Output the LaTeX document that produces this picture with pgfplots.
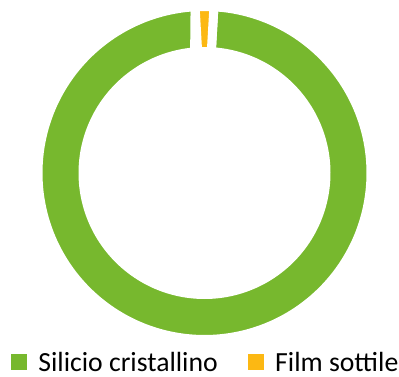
\documentclass[border=0pt]{standalone}
\usepackage{fontspec}
\setmainfont{Carlito}
\usepackage{pgfplots}
\usepackage{pgfplotstable}
\pgfplotsset{compat=1.18}
\definecolor{cgreen}{HTML}{77B82E}
\definecolor{corange}{HTML}{FCB813}
\pgfplotstableread{
label value
Silicio 98.2
Film 1.8
}\datatable
\pgfplotstablegetelem{0}{value}\of\datatable \let\va\pgfplotsretval
\pgfplotstablegetelem{1}{value}\of\datatable \let\vb\pgfplotsretval
\pgfmathsetmacro\aOs{90-\vb*1.8}
\pgfmathsetmacro\aOe{90+\vb*1.8}
\pgfmathsetmacro\aGs{\aOe}
\pgfmathsetmacro\aGe{\aOe+\va*3.6}
\def\Ro{166.5}
\def\Ri{121.5}
\newcommand\sector[3]{%
\addplot[fill=#1, draw=white, line width=9pt, forget plot,
  samples at={0,0.005,...,0.995,0.99999,1,1.005,...,2}]
  ({ifthenelse(x<1, \Ro*cos(#2+(#3-#2)*x), \Ri*cos(#3-(#3-#2)*(x-1)))},
   {ifthenelse(x<1, \Ro*sin(#2+(#3-#2)*x), \Ri*sin(#3-(#3-#2)*(x-1)))}) --cycle;
}
\begin{document}
\begin{tikzpicture}
\useasboundingbox (0,0) rectangle (399pt,376pt);
\begin{axis}[
  at={(0,0)}, anchor=south west,
  scale only axis, width=399pt, height=376pt,
  xmin=-204.5, xmax=194.5, ymin=-203, ymax=173,
  hide axis, clip=false,
  legend columns=2,
  legend style={at={(axis cs:-193.5,-188.5)}, anchor=west, draw=none, fill=none,
    inner sep=0pt, outer sep=0pt,
    nodes={inner sep=0pt, text depth=0pt, font=\fontsize{27.7}{32}\selectfont},
    /tikz/every odd column/.append style={column sep=12pt},
    /tikz/every even column/.append style={column sep=30pt}},
]
\sector{cgreen}{\aGs}{\aGe}
\sector{corange}{\aOs}{\aOe}
\addlegendimage{legend image code/.code={\fill[cgreen] (0pt,-7.5pt) rectangle (15pt,7.5pt);}}
\addlegendentry{Silicio cristallino}
\addlegendimage{legend image code/.code={\fill[corange] (0pt,-7.5pt) rectangle (15pt,7.5pt);}}
\addlegendentry{Film sottile}
\end{axis}
\end{tikzpicture}
\end{document}
